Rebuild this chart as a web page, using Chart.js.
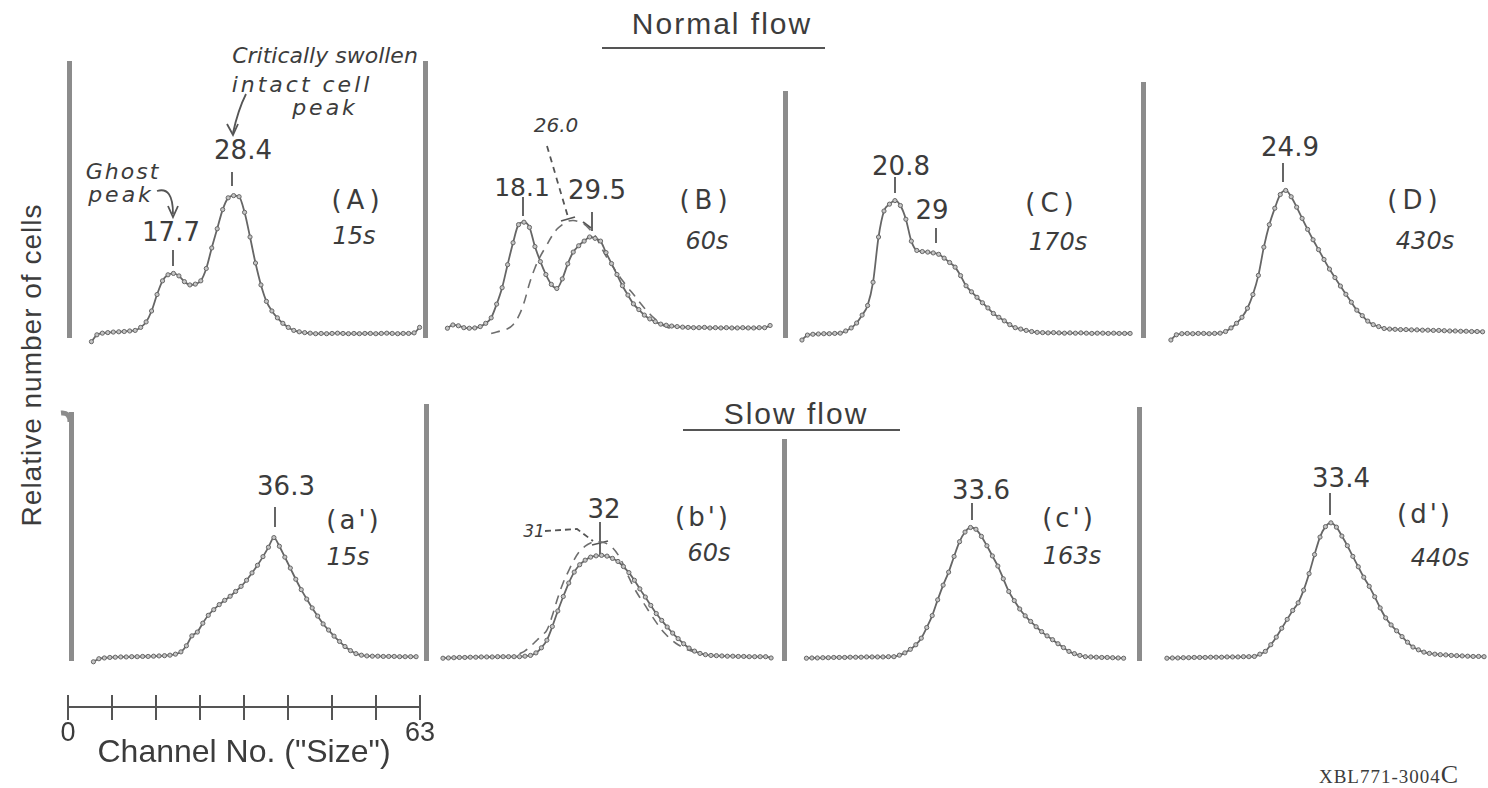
<!DOCTYPE html>
<html>
<head>
<meta charset="utf-8">
<script src="https://cdn.jsdelivr.net/npm/chart.js@4.4.0/dist/chart.umd.min.js"></script>
<style>
  html, body { margin: 0; padding: 0; background: #fff; }
  #page { position: relative; width: 1488px; height: 788px; overflow: hidden; color: #3c3c3c; font-family: 'DejaVu Sans', sans-serif; }
  #page canvas { position: absolute; }
  .t { position: absolute; transform: translate(-50%, -50%); white-space: nowrap; line-height: 1; }
  .i { font-style: italic; }
  .h { font-family: 'Liberation Sans', Arial, sans-serif; }
  #deco { position: absolute; left: 0; top: 0; }
</style>
</head>
<body>
<div id="page">
  <svg id="deco" width="1488" height="788" fill="none" stroke="#555" stroke-width="1.8">
    <path d="M602 48 L825 48" stroke-width="2.2"/>
    <path d="M683 430 L900 430" stroke-width="2.2"/>
    <!-- (A) -->
    <path d="M246 94 Q238 110 233 133"/>
    <path d="M227 124 L233 135 L238 124"/>
    <path d="M232 172 L232 186"/>
    <path d="M157 191 Q173 186 173 214"/>
    <path d="M168 206 L173 217 L178 206"/>
    <path d="M173 250 L173 266"/>
    <!-- (B) -->
    <path d="M523 197 L523 216"/>
    <path d="M547 146 L568 217" stroke-dasharray="6 5"/>
    <path d="M561 221 L575 217"/>
    <path d="M592 212 L592 231"/>
    <path d="M583 222 L591 228"/>
    <!-- (C) (D) -->
    <path d="M895 177 L895 193"/>
    <path d="M936 228 L936 243"/>
    <path d="M1283 163 L1283 182"/>
    <!-- bottom row -->
    <path d="M70 422 Q70 412 61 413" stroke="#8c8c8c" stroke-width="5"/>
    <path d="M275 507 L275 527"/>
    <path d="M545 531 L577 529 L593 541" stroke-dasharray="6 4"/>
    <path d="M600 522 L600 556"/>
    <path d="M592 545 L608 541"/>
    <path d="M972 503 L972 520"/>
    <path d="M1330 493 L1330 515"/>
  </svg>

  <div class="t h" style="left:722px;top:24px;font-size:30px;letter-spacing:2px;">Normal flow</div>
  <div class="t h" style="left:796px;top:414px;font-size:30px;letter-spacing:2px;">Slow flow</div>
  <div class="t h" style="left:32px;top:365px;font-size:28px;letter-spacing:1px;transform:translate(-50%,-50%) rotate(-90deg);">Relative number of cells</div>

  <div class="t i" style="left:325px;top:56px;font-size:22px;">Critically swollen</div>
  <div class="t i" style="left:302px;top:85px;font-size:22px;letter-spacing:3px;">intact cell</div>
  <div class="t i" style="left:325px;top:108px;font-size:22px;letter-spacing:3px;">peak</div>
  <div class="t" style="left:243px;top:150px;font-size:26px;">28.4</div>
  <div class="t i" style="left:123px;top:172px;font-size:22px;letter-spacing:2px;">Ghost</div>
  <div class="t i" style="left:121px;top:195px;font-size:22px;letter-spacing:3px;">peak</div>
  <div class="t" style="left:171px;top:232px;font-size:26px;">17.7</div>
  <div class="t" style="left:358px;top:200px;font-size:26px;letter-spacing:5px;">(A)</div>
  <div class="t i" style="left:354px;top:236px;font-size:24px;">15s</div>

  <div class="t" style="left:522px;top:187px;font-size:25px;">18.1</div>
  <div class="t i" style="left:556px;top:125px;font-size:20px;">26.0</div>
  <div class="t" style="left:597px;top:190px;font-size:26px;">29.5</div>
  <div class="t" style="left:706px;top:200px;font-size:26px;letter-spacing:5px;">(B)</div>
  <div class="t i" style="left:707px;top:241px;font-size:24px;">60s</div>

  <div class="t" style="left:901px;top:166px;font-size:26px;">20.8</div>
  <div class="t" style="left:932px;top:210px;font-size:26px;">29</div>
  <div class="t" style="left:1052px;top:203px;font-size:26px;letter-spacing:5px;">(C)</div>
  <div class="t i" style="left:1058px;top:242px;font-size:24px;">170s</div>

  <div class="t" style="left:1290px;top:147px;font-size:26px;">24.9</div>
  <div class="t" style="left:1415px;top:200px;font-size:26px;letter-spacing:5px;">(D)</div>
  <div class="t i" style="left:1425px;top:241px;font-size:24px;">430s</div>

  <div class="t" style="left:286px;top:486px;font-size:26px;">36.3</div>
  <div class="t" style="left:354px;top:520px;font-size:26px;letter-spacing:3px;">(a')</div>
  <div class="t i" style="left:348px;top:557px;font-size:24px;">15s</div>

  <div class="t i" style="left:534px;top:531px;font-size:17px;">31</div>
  <div class="t" style="left:604px;top:509px;font-size:26px;">32</div>
  <div class="t" style="left:703px;top:517px;font-size:26px;letter-spacing:3px;">(b')</div>
  <div class="t i" style="left:709px;top:553px;font-size:24px;">60s</div>

  <div class="t" style="left:981px;top:490px;font-size:26px;">33.6</div>
  <div class="t" style="left:1069px;top:518px;font-size:26px;letter-spacing:3px;">(c')</div>
  <div class="t i" style="left:1072px;top:556px;font-size:24px;">163s</div>

  <div class="t" style="left:1341px;top:478px;font-size:26px;">33.4</div>
  <div class="t" style="left:1425px;top:514px;font-size:26px;letter-spacing:3px;">(d')</div>
  <div class="t i" style="left:1440px;top:558px;font-size:24px;">440s</div>

  <div class="t" style="left:1389px;top:775px;font-size:19px;letter-spacing:1px;font-family:'Liberation Serif',serif;">XBL771-3004<span style="font-size:26px;">C</span></div>
</div>

<script>
// Canales del analizador (0..63)
const channels = [0,1,2,3,4,5,6,7,8,9,10,11,12,13,14,15,16,17,18,19,20,21,22,23,24,25,26,27,28,29,30,31,
                  32,33,34,35,36,37,38,39,40,41,42,43,44,45,46,47,48,49,50,51,52,53,54,55,56,57,58,59,60,61,62,63];

// Flujo normal
const valuesA = [null,null,null,-1.7,0.8,1.4,1.6,1.8,1.9,2.0,2.2,2.4,3.5,5.5,9.5,15.5,20.5,22.7,23.2,22.3,20.2,19.0,19.3,20.5,
                 25,32.5,39.5,46.5,50.8,51.6,51.2,45.5,36.5,27,19,13,9.5,7,5,3.5,2.4,1.9,1.6,1.4,
                 1.2,1.3,1.2,1.3,1.4,1.3,1.2,1.3,1.2,1.3,1.3,1.2,1.3,1.4,1.3,1.2,1.3,1.3,1.5,3.5];
const valuesB = [null,null,null,3.2,4.4,4.1,3.4,3.2,3.3,3.8,5,7,12,18,26.4,34.4,41,41.9,40,33,27.5,22.8,19.2,17.7,
                 21.2,26.7,31,33.3,35,36.5,36,35,30.8,26.8,22.8,18.7,15.3,12.1,10,8,6.6,5.6,4.7,4.3,4,3.8,
                 3.6,3.5,3.4,3.4,3.5,3.3,3.4,3.3,3.4,3.3,3.3,3.4,3.3,3.3,3.4,3.4,4.2,null];
const fitB = [null,null,null,null,null,null,null,null,null,null,null,1.3,1.8,2.4,3,4.5,7.5,12.5,19.5,25.2,29.5,33,36.5,39.3,
              41,42.2,42.5,42.1,41.2,39.3,37,33.2,29.5,26.5,23.4,20.6,18,15.6,13,10.6,8.4,6.5,4.8,3.7,3.0,
              null,null,null,null,null,null,null,null,null,null,null,null,null,null,null,null,null,null,null];
const valuesC = [null,null,-1.1,0.7,1.0,1.1,1.2,1.2,1.3,1.4,2.2,3.3,5.1,8,11.5,20,36.5,46,48.5,49.8,48,43,35,31.6,
                 31.2,31,30.7,30.2,28.8,27.2,25.5,22.4,18.7,16.5,14.5,12.5,10.6,8.6,7.2,5.9,4.5,3.4,2.9,2.4,2.0,
                 1.7,1.6,1.5,1.6,1.5,1.4,1.5,1.4,1.5,1.4,1.3,1.4,1.4,1.3,1.4,1.3,1.3,1.3,null];
const valuesD = [null,null,null,null,-1.1,0.8,1.2,1.3,1.2,1.3,1.3,1.2,1.3,1.4,2,3.3,5,7.2,10.5,15.5,22.5,32.8,41,47,
                 52,53.5,51.2,47.4,43.3,39.3,35.5,31.9,28.3,24.8,21.7,18.6,15.6,12.7,9.8,7.8,5.8,4.5,3.8,3.1,2.9,
                 2.8,2.7,2.7,2.6,2.6,2.5,2.5,2.4,2.4,2.3,2.2,2.2,2.1,2.1,2.0,2.0,1.9,null,null];

// Flujo lento
const valuesA2 = [null,null,null,-0.7,0.5,0.8,1.0,1.1,1.2,1.2,1.3,1.3,1.4,1.4,1.5,1.6,1.7,1.9,2.3,3.2,5.6,9.5,11,14.5,
                  17.6,19.8,21.8,23.5,25.1,27,29,31.4,34.3,37.3,40.7,44.4,48.2,44.8,40.5,36.2,31.8,27.7,24,20.5,17.3,
                  14.2,11.8,9.4,7.3,5.3,3.7,2.5,1.9,1.6,1.5,1.5,1.4,1.4,1.4,1.3,1.3,1.3,1.3,null];
const valuesB2 = [null,null,0.7,0.8,0.9,1.0,1.0,1.1,1.1,1.2,1.2,1.2,1.3,1.3,1.3,1.3,1.3,1.5,1.8,2.8,4.8,7.8,13.2,19.3,
                  25,30.3,34.6,37.5,39.3,40.5,41,41.2,40.9,40,38.8,36.8,34.4,31.4,28,24.8,21.5,18.3,15.6,13,10.6,
                  8.4,6.4,4.7,3.5,2.6,2.1,1.8,1.7,1.6,1.5,1.5,1.4,1.4,1.3,1.3,1.3,1.3,0.8,null];
const fitB2 = [null,null,null,null,null,null,null,null,null,null,null,null,null,null,null,null,2.4,3.6,5.4,7.4,9.5,11.8,
               17.5,24.5,30.5,35.2,39.5,42.8,44.8,46.1,46.5,46.4,45.8,44.2,41.5,37.5,32.5,28.2,24.6,21.4,18,14.8,
               11.8,9.5,7.6,6,4.8,3.8,3.1,null,null,null,null,null,null,null,null,null,null,null,null,null,null,null];
const valuesC2 = [null,null,null,0.7,0.8,0.8,0.9,0.9,1.0,1.0,1.0,1.1,1.1,1.1,1.2,1.2,1.2,1.2,1.3,1.3,1.9,2.8,4.2,6,
                  8.6,12.8,17.5,23.7,29.5,34.6,40.8,46.6,50.4,52.2,51.5,48.7,45,41,37,32,27,23.4,20.1,17.4,15.2,
                  13.1,11.2,9.5,8,6.4,4.9,3.4,2.5,1.8,1.3,1.2,1.1,1.0,1.0,0.9,0.8,0.7,null,null];
const valuesD2 = [null,null,null,null,0.7,0.8,0.8,0.9,0.9,1.0,1.0,1.0,1.1,1.1,1.1,1.2,1.2,1.2,1.3,1.3,1.4,2.3,3.4,6,
                  9,12.5,16,19.5,22.5,27.5,34,41.5,48.4,52.5,54,52.3,48.8,45,40.8,36.7,32.6,29,24.9,20.5,16.6,
                  13.8,11.5,9.2,7,5.1,4,3.1,2.6,2.3,2.1,2.0,1.8,1.7,1.6,1.5,1.4,1.4,1.3,null];

// Escala de canales (barra inferior)
const scaleTicks = [0, 7.875, 15.75, 23.625, 31.5, 39.375, 47.25, 55.125, 63];
const scaleLabels = ['0', '', '', '', '', '', '', '', '63'];

(function() {
    const page = document.getElementById('page');
    const curveColor = '#666';
    const barColor = '#8c8c8c';
    const pxPerChannel = 5.5;
    const xMin = -1.1;

    // --- Paneles: posicion del eje izquierdo (barra), arriba y linea base ---
    const panels = [
        { left: 68,   top: 62,  width: 356, base: 337, ppu: 2.75, values: valuesA },
        { left: 424,  top: 62,  width: 360, base: 337, ppu: 2.75, values: valuesB, fit: fitB },
        { left: 784,  top: 92,  width: 358, base: 337, ppu: 2.75, values: valuesC },
        { left: 1142, top: 83,  width: 346, base: 337, ppu: 2.75, values: valuesD },
        { left: 70,   top: 413, width: 355, base: 660, ppu: 2.55, values: valuesA2 },
        { left: 425,  top: 405, width: 358, base: 660, ppu: 2.55, values: valuesB2, fit: fitB2 },
        { left: 783,  top: 440, width: 355, base: 660, ppu: 2.55, values: valuesC2 },
        { left: 1138, top: 408, width: 350, base: 660, ppu: 2.55, values: valuesD2 }
    ];

    const toPoints = vals => channels
        .map((c, i) => ({ x: c, y: vals[i] }))
        .filter(d => d.y !== null);

    function dibujarPanel(p) {
        const padX = 4, padT = 4, padB = 10;
        const cv = document.createElement('canvas');
        cv.width = p.width + padX * 2;
        cv.height = p.base - p.top + padT + padB;
        cv.style.left = (p.left - padX) + 'px';
        cv.style.top = (p.top - padT) + 'px';
        page.appendChild(cv);

        const datasets = [{
            data: toPoints(p.values),
            borderColor: curveColor,
            borderWidth: 1.8,
            pointRadius: 2.1,
            pointBackgroundColor: '#c4c4c4',
            pointBorderColor: '#666',
            pointBorderWidth: 1,
            cubicInterpolationMode: 'monotone',
            clip: false
        }];
        if (p.fit) {
            datasets.push({
                data: toPoints(p.fit),
                borderColor: '#6e6e6e',
                borderWidth: 1.6,
                borderDash: [9, 7],
                pointRadius: 0,
                tension: 0.4,
                clip: false
            });
        }

        new Chart(cv.getContext('2d'), {
            type: 'line',
            data: { datasets },
            options: {
                responsive: false,
                animation: false,
                events: [],
                layout: { padding: { left: padX, right: padX, top: padT, bottom: padB } },
                plugins: { legend: { display: false }, tooltip: { enabled: false } },
                scales: {
                    x: { type: 'linear', display: false, min: xMin, max: xMin + p.width / pxPerChannel },
                    y: {
                        min: 0,
                        max: (p.base - p.top) / p.ppu,
                        ticks: { display: false },
                        grid: { display: false, drawTicks: false },
                        border: { display: true, width: 5, color: barColor }
                    }
                }
            }
        });
    }

    panels.forEach(dibujarPanel);

    // --- Barra de escala "Channel No." ---
    // area de 12 px sobre el eje para que las marcas crucen la linea
    const sc = document.createElement('canvas');
    sc.width = 440; sc.height = 89;
    sc.style.left = '40px'; sc.style.top = '680px';
    page.appendChild(sc);
    new Chart(sc.getContext('2d'), {
        type: 'line',
        data: { datasets: [] },
        options: {
            responsive: false,
            animation: false,
            events: [],
            layout: { padding: { left: 28, right: 60, top: 15, bottom: 0 } },
            plugins: { legend: { display: false }, tooltip: { enabled: false } },
            scales: {
                x: {
                    type: 'linear', min: 0, max: 63,
                    afterBuildTicks: s => { s.ticks = scaleTicks.map(v => ({ value: v })); },
                    afterFit: s => { s.height = 62; },
                    ticks: {
                        autoSkip: false, maxRotation: 0, padding: 0,
                        callback: (v, i) => scaleLabels[i],
                        color: '#3c3c3c',
                        font: { family: "'Liberation Sans', Arial, sans-serif", size: 27, lineHeight: 1 }
                    },
                    grid: { drawOnChartArea: true, drawTicks: true, tickLength: 13, color: '#555', lineWidth: 2 },
                    border: { display: true, width: 2, color: '#555' },
                    title: {
                        display: true, text: 'Channel No. ("Size")', color: '#3c3c3c',
                        font: { family: "'Liberation Sans', Arial, sans-serif", size: 32, lineHeight: 1 },
                        padding: 0
                    }
                },
                y: { display: false, min: 0, max: 1 }
            }
        }
    });
})();
</script>
</body>
</html>
